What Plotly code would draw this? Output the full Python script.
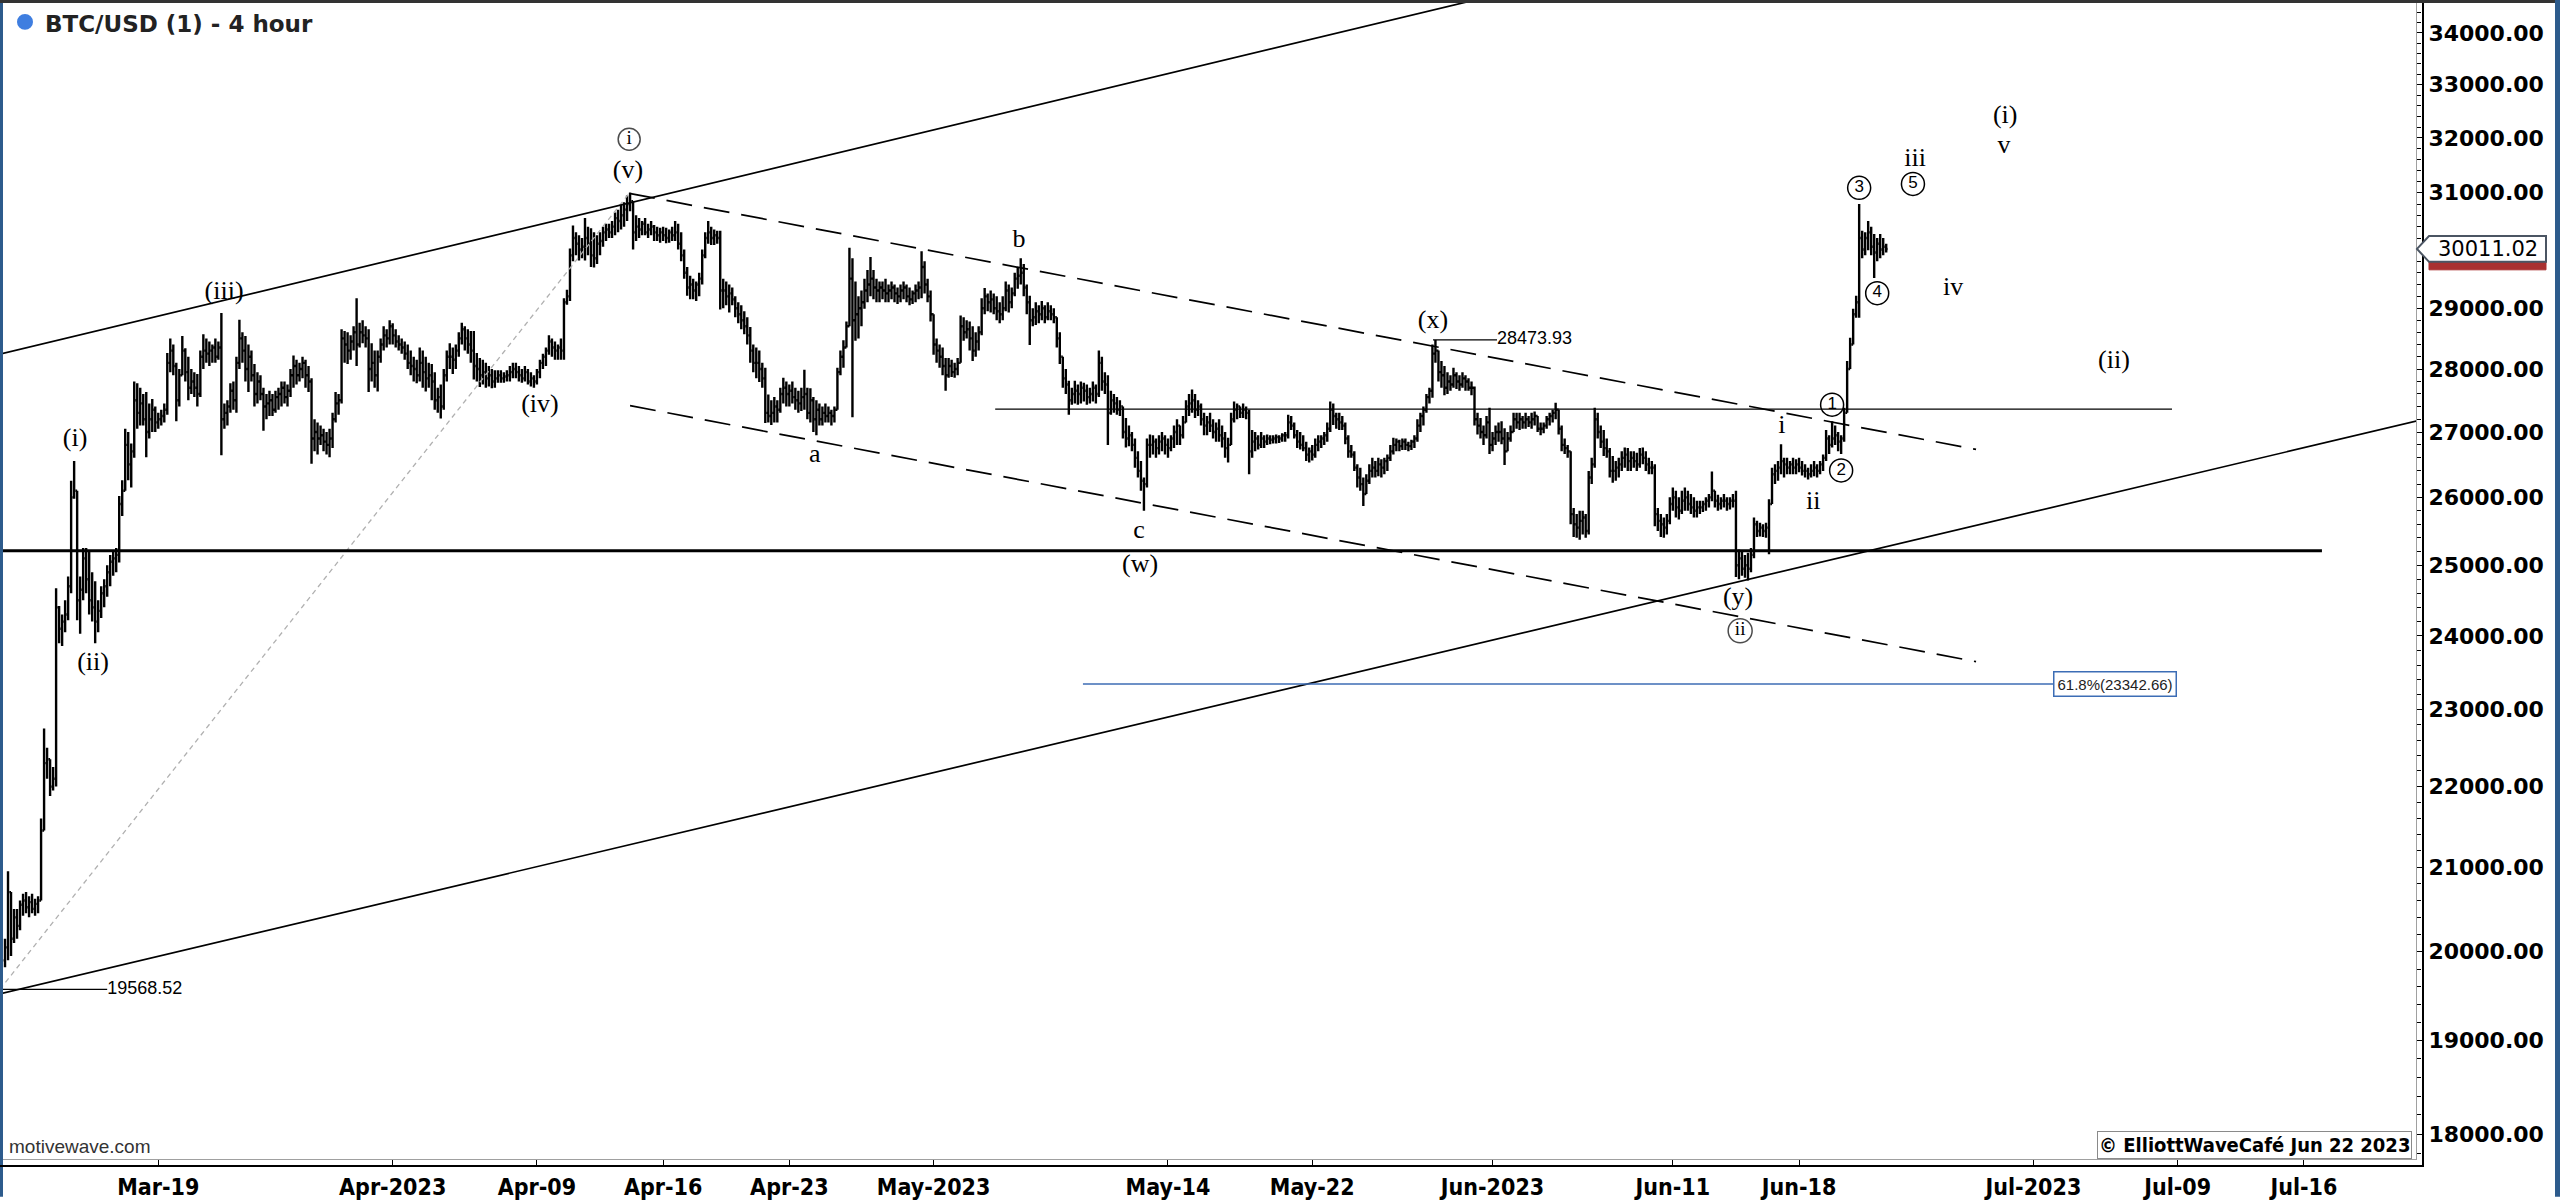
import math
from datetime import datetime, timedelta
import plotly.graph_objects as go

# ----------------------------------------------------------------- data
T0 = datetime(2023, 3, 10, 12, 0)      # time of first 4-hour bar
BAR_HOURS = 4
FIRST_OPEN = 19900
LAST_PRICE = 30011.02

HIGHS = [
    20150, 20950, 20700, 20500, 20500, 20600, 20680, 20700, 20650, 20680,
    20620, 20650, 21600, 22750, 22500, 22300, 22250, 24670, 24420, 24300,
    24500, 24840, 26250, 26550, 26020, 24840, 25250, 25250, 25200, 24900,
    24770, 24500, 24700, 24800, 25000, 25150, 25200, 25250, 26020, 26260,
    27050, 27000, 26820, 27800, 27770, 27700, 27600, 27630, 27450, 27520,
    27400, 27300, 27350, 27450, 28260, 28500, 28400, 28100, 28000, 28540,
    28340, 28200, 28000, 27950, 27920, 28300, 28570, 28500, 28450, 28400,
    28500, 28450, 28920, 27450, 27500, 27770, 27800, 28200, 28810, 28600,
    28540, 28400, 28300, 28080, 27950, 27900, 27700, 27600, 27650, 27600,
    27650, 27700, 27800, 27800, 27750, 28000, 28220, 28150, 28100, 28200,
    28150, 28050, 27850, 27200, 27150, 27100, 27050, 27000, 27050, 27300,
    27630, 27600, 28650, 28620, 28600, 28550, 28700, 29170, 28760, 28800,
    28700, 28650, 28420, 28300, 28300, 28500, 28700, 28650, 28800, 28750,
    28650, 28550, 28500, 28450, 28400, 28300, 28200, 28150, 28350, 28300,
    28200, 28100, 28080, 27950, 27700, 27750, 28000, 28300, 28420, 28350,
    28400, 28600, 28760, 28700, 28650, 28620, 28620, 28260, 28180, 28150,
    28100, 28050, 28000, 27980, 27980, 27980, 27950, 27980, 28050, 28100,
    28100, 28050, 28000, 28050, 28000, 27950, 27900, 28000, 28150, 28250,
    28350, 28550, 28500, 28450, 28400, 28500, 29170, 29310, 30020, 30420,
    30300, 30250, 30200, 30550, 30400, 30370, 30300, 30250, 30300, 30400,
    30450, 30450, 30500, 30650, 30700, 30800, 30830, 30950, 31000, 30800,
    30600, 30550, 30500, 30550, 30450, 30500, 30430, 30400, 30380, 30400,
    30380, 30350, 30400, 30500, 30450, 30300, 30000, 29700, 29550, 29500,
    29450, 29600, 30000, 30300, 30500, 30400, 30350, 30330, 30330, 29500,
    29450, 29400, 29350, 29200, 29100, 29050, 28950, 28850, 28690, 28400,
    28350, 28300, 28100, 28020, 27590, 27500, 27550, 27500, 27700, 27860,
    27800, 27750, 27800, 27700, 27650, 27700, 27990, 27700, 27690, 27550,
    27500, 27450, 27400, 27450, 27400, 27350, 27400, 28020, 28300, 28470,
    28780, 30030, 29850, 29450, 29200, 29300, 29500, 29650, 29870, 29650,
    29500, 29450, 29450, 29500, 29400, 29450, 29400, 29350, 29400, 29450,
    29400, 29350, 29300, 29400, 29450, 29970, 29800, 29500, 29300, 28780,
    28500, 28400, 28350, 28180, 28180, 28150, 28100, 28180, 28880, 28850,
    28800, 28780, 28700, 28600, 28700, 29170, 29340, 29250, 29300, 29250,
    29200, 29100, 29200, 29450, 29400, 29350, 29600, 29700, 29850, 29750,
    29400, 29210, 29000, 29100, 29050, 29120, 29050, 29100, 29050, 29000,
    28840, 28600, 28130, 28000, 27810, 27700, 27810, 27750, 27800, 27780,
    27750, 27700, 27800, 27750, 28300, 28200, 27950, 27900, 27650, 27600,
    27550, 27500, 27400, 27220, 27100, 27000, 26900, 26700, 26550, 26300,
    26900, 26960, 26950, 26900, 26950, 27000, 26950, 26900, 26950, 27100,
    27200, 27100, 27250, 27500, 27600, 27670, 27600, 27500, 27450, 27300,
    27250, 27300, 27200, 27150, 27200, 27100, 27000, 26910, 27300, 27480,
    27450, 27400, 27450, 27400, 27350, 27030, 27000, 26950, 27000, 26950,
    26960, 26950, 26950, 26960, 26950, 26980, 27000, 27270, 27250, 27150,
    27030, 27000, 26950, 26850, 26760, 26800, 26900, 26950, 26950, 27000,
    27150, 27480, 27450, 27300, 27300, 27250, 27150, 26950, 26800, 26700,
    26500, 26450, 26300, 26350, 26500, 26600, 26550, 26600, 26580, 26600,
    26650, 26800, 26910, 26900, 26880, 26900, 26900, 26850, 26880, 26950,
    27200, 27300, 27400, 27600, 27700, 28400, 28474, 28300, 28130, 28050,
    27950, 27900, 28020, 27950, 27900, 27950, 27900, 27850, 27800, 27720,
    27300, 27220, 27100, 27250, 27380, 27000, 27100, 27150, 27170, 27060,
    27000, 27100, 27300, 27300, 27300, 27250, 27300, 27250, 27300, 27320,
    27250, 27150, 27150, 27250, 27300, 27350, 27460, 27350, 27100, 26900,
    26800, 26700, 25840, 25750, 25800, 25800, 25750, 26400, 26600, 27380,
    27300, 27100, 27030, 26900, 26750, 26630, 26550, 26600, 26700, 26760,
    26750, 26700, 26700, 26680, 26750, 26760, 26700, 26600, 26550, 26500,
    25840, 25750, 25700, 25750, 26000, 26150, 26100, 26000, 26100, 26150,
    26100, 26050, 26000, 25950, 25950, 25950, 26000, 26050, 26390, 26100,
    26040, 26000, 26050, 26000, 26000, 26050, 26100, 25230, 25200, 25150,
    25180, 25250, 25700, 25650, 25620, 25600, 25620, 25970, 26450, 26500,
    26550, 26810, 26600, 26600, 26550, 26600, 26580, 26600, 26550, 26500,
    26450, 26500, 26550, 26500, 26550, 26650, 27030, 26950, 27170, 27100,
    27000, 26950, 27380, 28130, 28510, 28990, 29210, 30800, 30330, 30300,
    30500, 30400, 30270, 30200, 30270, 30200, 30100,
]

LOWS = [
    19820, 19900, 19950, 20100, 20150, 20250, 20420, 20450, 20400, 20450,
    20420, 20450, 20600, 21450, 22100, 21880, 21950, 22000, 23900, 23860,
    24050, 24220, 24600, 25980, 24220, 24030, 24500, 24600, 24300, 24200,
    23900, 24050, 24250, 24400, 24550, 24700, 24850, 24900, 25040, 25720,
    26100, 26260, 26150, 26600, 27050, 27100, 27100, 26610, 26900, 27000,
    27000, 27050, 27100, 27150, 27270, 27950, 27900, 27170, 27400, 27920,
    27800, 27500, 27600, 27550, 27400, 27550, 28000, 28100, 28050, 28100,
    28100, 28150, 26640, 27050, 27100, 27300, 27350, 27300, 28000, 28100,
    27800, 27630, 27800, 27400, 27450, 27500, 27020, 27200, 27250, 27250,
    27300, 27350, 27400, 27450, 27400, 27550, 27700, 27750, 27800, 27850,
    27700, 27630, 26510, 26700, 26650, 26800, 26700, 26650, 26610, 26750,
    27150, 27270, 27450, 28100, 28080, 28150, 28300, 28050, 28350, 28420,
    28350, 27630, 27800, 27700, 27640, 28100, 28300, 28350, 28400, 28400,
    28350, 28300, 28250, 28150, 28000, 27900, 27800, 27770, 27800, 27700,
    27640, 27700, 27500, 27350, 27300, 27210, 27350, 27800, 28000, 27920,
    28000, 28200, 28400, 28300, 28250, 28100, 27830, 27800, 27710, 27750,
    27700, 27720, 27690, 27700, 27780, 27780, 27780, 27800, 27800, 27850,
    27850, 27800, 27780, 27800, 27750, 27720, 27700, 27750, 27850, 28000,
    28050, 28230, 28200, 28150, 28150, 28150, 28150, 29060, 29120, 29800,
    29900, 29810, 29850, 29810, 29900, 29700, 29690, 29750, 29900, 30050,
    30150, 30200, 30200, 30250, 30300, 30350, 30400, 30500, 30670, 30000,
    30150, 30200, 30250, 30250, 30200, 30250, 30150, 30150, 30120, 30150,
    30110, 30120, 30150, 30150, 30000, 29800, 29500, 29210, 29150, 29150,
    29120, 29200, 29400, 29850, 30100, 30080, 30080, 30100, 28980, 29000,
    29050, 28930, 29050, 28850, 28750, 28650, 28570, 28400, 28100, 27950,
    27850, 27790, 27700, 27140, 27150, 27110, 27150, 27150, 27300, 27450,
    27400, 27400, 27450, 27350, 27300, 27330, 27350, 27200, 27150, 27000,
    26950, 27100, 27100, 27150, 27150, 27100, 27150, 27350, 27900, 28020,
    28350, 28700, 27230, 28460, 28500, 28700, 28990, 29100, 29200, 29150,
    29100, 29100, 29150, 29100, 29100, 29150, 29100, 29070, 29100, 29150,
    29100, 29050, 29070, 29100, 29150, 29170, 29250, 29100, 28780, 28230,
    28100, 28020, 27900, 27650, 27860, 27870, 27860, 27900, 28100, 28460,
    28500, 28300, 28130, 28200, 28300, 28550, 28900, 28950, 28930, 28900,
    28800, 28750, 28800, 28950, 28930, 29000, 29200, 29330, 29400, 29200,
    28900, 28390, 28700, 28720, 28750, 28800, 28750, 28800, 28800, 28750,
    28350, 28080, 27700, 27600, 27270, 27430, 27450, 27430, 27450, 27480,
    27430, 27450, 27480, 27450, 27550, 27650, 27600, 26800, 27270, 27300,
    27270, 27250, 26900, 26760, 26780, 26700, 26450, 26300, 26100, 25800,
    26150, 26600, 26650, 26600, 26650, 26700, 26650, 26600, 26700, 26750,
    26800, 26800, 26900, 27150, 27250, 27300, 27220, 27250, 27100, 26950,
    26950, 27000, 26900, 26850, 26850, 26760, 26600, 26530, 26800, 27150,
    27200, 27220, 27220, 27200, 26350, 26600, 26700, 26730, 26750, 26750,
    26800, 26810, 26820, 26820, 26830, 26850, 26850, 26900, 27030, 26900,
    26750, 26730, 26700, 26550, 26530, 26560, 26600, 26700, 26750, 26800,
    26850, 27000, 27110, 27050, 27030, 27030, 26810, 26600, 26600, 26400,
    26150, 26100, 25870, 26050, 26200, 26300, 26300, 26320, 26300, 26350,
    26400, 26550, 26650, 26700, 26700, 26720, 26720, 26700, 26720, 26750,
    26850, 27000, 27100, 27300, 27450, 27540, 28100, 27800, 27700, 27580,
    27600, 27650, 27700, 27680, 27650, 27700, 27650, 27650, 27580, 27100,
    26960, 26900, 26800, 26900, 26660, 26700, 26800, 26850, 26810, 26490,
    26700, 26850, 27030, 27050, 27030, 27050, 27050, 27080, 27050, 27100,
    27000, 26950, 26980, 27050, 27100, 27150, 27200, 26960, 26700, 26660,
    26600, 25600, 25410, 25400, 25370, 25450, 25400, 25450, 26200, 26450,
    26900, 26750, 26630, 26600, 26300, 26220, 26250, 26300, 26400, 26450,
    26400, 26400, 26450, 26400, 26450, 26500, 26400, 26350, 26350, 25570,
    25500, 25410, 25400, 25450, 25600, 25800, 25700, 25670, 25750, 25800,
    25800, 25750, 25700, 25700, 25750, 25780, 25800, 25850, 25940, 25850,
    25800, 25820, 25850, 25800, 25820, 25850, 24830, 24800, 24850, 24820,
    24780, 24900, 25100, 25410, 25420, 25410, 25400, 25160, 25910, 26200,
    26250, 26350, 26300, 26350, 26350, 26350, 26350, 26380, 26330, 26300,
    26270, 26300, 26320, 26300, 26350, 26400, 26550, 26660, 26760, 26800,
    26700, 26660, 26850, 27300, 28000, 28400, 28840, 28840, 29850, 29900,
    29990, 29900, 29510, 29800, 29850, 29900, 29950,
]

CLOSES = [
    20050, 20700, 20150, 20400, 20300, 20550, 20600, 20520, 20580, 20500,
    20560, 20600, 21450, 22300, 22350, 22000, 22100, 24400, 24100, 24200,
    24300, 24700, 26000, 26100, 24500, 24650, 25100, 24800, 24500, 24400,
    24200, 24350, 24600, 24700, 24900, 25050, 25100, 25150, 25900, 26100,
    26800, 26500, 26700, 27500, 27300, 27450, 27200, 27000, 27200, 27350,
    27150, 27200, 27250, 27350, 28100, 28300, 28050, 27500, 27900, 28300,
    27950, 27700, 27800, 27700, 27600, 28200, 28300, 28250, 28300, 28350,
    28200, 28350, 27200, 27300, 27400, 27650, 27500, 28100, 28500, 28300,
    28000, 28200, 27900, 27600, 27800, 27600, 27400, 27450, 27500, 27350,
    27550, 27600, 27700, 27550, 27650, 27900, 28050, 27900, 28000, 28100,
    27900, 27800, 26900, 27000, 26900, 26950, 26850, 26800, 26900, 27200,
    27450, 27500, 28500, 28400, 28300, 28450, 28600, 28400, 28600, 28550,
    28500, 28000, 28100, 27900, 28200, 28400, 28550, 28500, 28700, 28550,
    28450, 28400, 28350, 28250, 28100, 28050, 28000, 27900, 28100, 27950,
    27850, 27900, 27800, 27500, 27550, 27400, 27900, 28200, 28200, 28150,
    28300, 28500, 28650, 28500, 28400, 28300, 28050, 28000, 27900, 27950,
    27850, 27900, 27800, 27850, 27900, 27850, 27880, 27900, 27950, 28000,
    27950, 27900, 27850, 27950, 27800, 27850, 27800, 27950, 28100, 28200,
    28300, 28450, 28350, 28300, 28350, 28300, 29100, 29200, 29900, 30200,
    30100, 30000, 30050, 30200, 30100, 29900, 29850, 30100, 30150, 30300,
    30350, 30300, 30400, 30550, 30500, 30600, 30700, 30800, 30850, 30300,
    30400, 30350, 30450, 30300, 30350, 30400, 30300, 30250, 30300, 30250,
    30200, 30300, 30250, 30300, 30100, 29900, 29600, 29350, 29400, 29300,
    29400, 29500, 29900, 30200, 30300, 30200, 30250, 30200, 29300, 29300,
    29200, 29250, 29150, 29000, 28900, 28800, 28700, 28550, 28300, 28100,
    28100, 28000, 27850, 27300, 27250, 27300, 27400, 27350, 27600, 27700,
    27600, 27650, 27550, 27500, 27450, 27550, 27600, 27300, 27500, 27200,
    27350, 27200, 27300, 27250, 27300, 27250, 27350, 27950, 28200, 28350,
    28700, 29500, 28800, 28900, 29000, 29100, 29300, 29400, 29500, 29350,
    29300, 29350, 29300, 29250, 29300, 29350, 29250, 29200, 29300, 29350,
    29200, 29150, 29250, 29300, 29350, 29700, 29400, 29200, 28900, 28400,
    28300, 28200, 28050, 27900, 28050, 27950, 28000, 28100, 28700, 28600,
    28650, 28500, 28300, 28450, 28600, 29000, 29200, 29100, 29150, 29000,
    28950, 28900, 29000, 29300, 29100, 29250, 29500, 29550, 29600, 29350,
    29100, 28800, 28850, 28950, 28900, 29000, 28850, 28950, 28900, 28850,
    28500, 28200, 27850, 27750, 27500, 27600, 27650, 27600, 27700, 27650,
    27550, 27600, 27700, 27600, 28100, 27800, 27750, 27300, 27500, 27450,
    27350, 27400, 27000, 26900, 26950, 26800, 26600, 26400, 26250, 26200,
    26800, 26800, 26850, 26750, 26850, 26900, 26800, 26750, 26900, 27000,
    27100, 26950, 27150, 27400, 27450, 27500, 27350, 27400, 27200, 27100,
    27150, 27100, 27000, 27050, 26950, 26900, 26750, 26800, 27200, 27350,
    27400, 27300, 27350, 27300, 26700, 26850, 26900, 26800, 26900, 26850,
    26900, 26880, 26900, 26920, 26900, 26950, 26950, 27150, 27100, 26950,
    26850, 26800, 26750, 26650, 26700, 26650, 26800, 26850, 26900, 26950,
    27050, 27350, 27250, 27200, 27150, 27100, 26900, 26700, 26650, 26450,
    26300, 26200, 26050, 26250, 26400, 26450, 26400, 26500, 26450, 26550,
    26600, 26700, 26800, 26850, 26780, 26850, 26800, 26780, 26850, 26900,
    27100, 27250, 27350, 27550, 27650, 28250, 28300, 27950, 27900, 27700,
    27800, 27750, 27900, 27800, 27750, 27850, 27800, 27700, 27700, 27200,
    27100, 27000, 26950, 27150, 26800, 26900, 27000, 27000, 26900, 26700,
    26900, 27000, 27200, 27150, 27200, 27150, 27200, 27150, 27200, 27250,
    27050, 27050, 27100, 27200, 27250, 27300, 27350, 27050, 26800, 26750,
    26700, 25750, 25600, 25550, 25650, 25700, 25500, 26300, 26500, 27200,
    27000, 26850, 26750, 26700, 26400, 26400, 26450, 26500, 26600, 26650,
    26550, 26600, 26550, 26500, 26650, 26600, 26500, 26450, 26450, 25750,
    25650, 25600, 25550, 25650, 25900, 26000, 25850, 25800, 25950, 26000,
    25900, 25850, 25800, 25850, 25850, 25900, 25950, 26000, 26100, 25950,
    25900, 25950, 25950, 25900, 25950, 25950, 25000, 25100, 24950, 25000,
    24950, 25150, 25600, 25500, 25550, 25500, 25550, 25900, 26350, 26400,
    26450, 26550, 26500, 26450, 26500, 26450, 26500, 26450, 26400, 26400,
    26350, 26400, 26450, 26400, 26500, 26600, 26900, 26800, 26900, 26950,
    26850, 26900, 27300, 28000, 28400, 28900, 29100, 30200, 30000, 30200,
    30300, 30050, 29950, 30100, 30000, 30050, LAST_PRICE,
]

# x-axis ticks (dates) and their labels
X_TICK_DATES = ["2023-03-19", "2023-04-01", "2023-04-09", "2023-04-16", "2023-04-23",
                "2023-05-01", "2023-05-14", "2023-05-22", "2023-06-01", "2023-06-11",
                "2023-06-18", "2023-07-01", "2023-07-09", "2023-07-16"]
X_TICK_TEXT = ["Mar-19", "Apr-2023", "Apr-09", "Apr-16", "Apr-23", "May-2023", "May-14",
               "May-22", "Jun-2023", "Jun-11", "Jun-18", "Jul-2023", "Jul-09", "Jul-16"]

# y-axis (log) ticks
Y_TICKS = [18000, 19000, 20000, 21000, 22000, 23000, 24000, 25000, 26000,
           27000, 28000, 29000, 30000, 31000, 32000, 33000, 34000]
Y_TICK_TEXT = ["18000.00", "19000.00", "20000.00", "21000.00", "22000.00", "23000.00",
               "24000.00", "25000.00", "26000.00", "27000.00", "28000.00", "29000.00",
               "30000.00", "31000.00", "32000.00", "33000.00", "34000.00"]
Y_RANGE = (17743, 34591)
X_RANGE_BARS = (-0.67, 802.3)          # visible span in bar units

# Elliott wave labels: (text, bar position, price)
WAVE_TEXT = [
    ("(v)", 207.3, 31390), ("(iii)", 72.9, 29270), ("(i)", 23.3, 26880),
    ("(ii)", 29.3, 23620), ("(iv)", 178.0, 27410), ("a", 269.5, 26636),
    ("b", 337.4, 30160), ("c", 377.4, 25497), ("(w)", 377.7, 25000),
    ("(x)", 475.2, 28786), ("(y)", 576.7, 24520), ("i", 591.3, 27080),
    ("ii", 601.7, 25925), ("iii", 635.6, 31610), ("iv", 648.3, 29340),
    ("(i)", 665.6, 32400), ("v", 665.2, 31846), ("(ii)", 701.8, 28115),
]
CIRCLED_ROMAN = [("i", 207.7, 31974), ("ii", 577.4, 24073)]
CIRCLED_DIGITS = [("1", 608.0, 27430), ("2", 611.0, 26408), ("3", 617.0, 31089),
                  ("4", 623.0, 29254), ("5", 634.9, 31160)]

# drawn lines: (bar0, price0, bar1, price1)
CHANNEL_SOLID = [(-1.0, 28252, 500.0, 34808), (-1.0, 19523, 805.0, 27200)]
CHANNEL_DASHED = [(207.7, 30990, 655.9, 26730), (208.0, 27414, 655.9, 23647)]
GRAY_DOTTED = (-1.7, 19568.52, 207.7, 30990)
LEVEL_THIN = [(-1.7, 34.0, 19568.52), (475.2, 496.5, 28473.93), (329.5, 721.1, 27360)]
LEVEL_THICK = (-1.7, 771.0, 25210)
FIB_LEVEL = (358.7, 681.5, 23342.66)
VALUE_TAGS = [("19568.52", 34.0, 19568.52), ("28473.93", 496.5, 28473.93)]

# ----------------------------------------------------------------- helpers
FIG_W, FIG_H = 2560, 1203
PX_L, PX_R, PX_T, PX_B = 3, 2416, 3, 1165
LY0, LY1 = math.log10(Y_RANGE[0]), math.log10(Y_RANGE[1])


def bar_time(i):
    return T0 + timedelta(hours=BAR_HOURS * i)


def px_x(X):
    return (X - PX_L) / (PX_R - PX_L)


def px_y(Y):
    return (PX_B - Y) / (PX_B - PX_T)


def price_paper(p):
    return (math.log10(p) - LY0) / (LY1 - LY0)


def price_px(p):
    return PX_B - price_paper(p) * (PX_B - PX_T)


n = len(CLOSES)
times = [bar_time(i) for i in range(n)]
opens = [FIRST_OPEN] + CLOSES[:-1]
highs = [max(h, o, c) for h, o, c in zip(HIGHS, opens, CLOSES)]
lows = [min(l, o, c) for l, o, c in zip(LOWS, opens, CLOSES)]

SERIF = "Liberation Serif, Times New Roman, serif"
SANS = "Liberation Sans, Arial, sans-serif"
VERD = "DejaVu Sans, Verdana, sans-serif"
COND = "DejaVu Sans Condensed, DejaVu Sans, sans-serif"

fig = go.Figure()


def seg(b0, p0, b1, p1, color="black", width=1.6, dash="solid"):
    fig.add_trace(go.Scatter(x=[bar_time(b0), bar_time(b1)], y=[p0, p1], mode="lines",
                             line=dict(color=color, width=width, dash=dash),
                             hoverinfo="skip", showlegend=False))


seg(*GRAY_DOTTED, color="#b0b0b0", width=1.3, dash="5px,4px")
for s in CHANNEL_SOLID:
    seg(*s, width=1.7)
for s in CHANNEL_DASHED:
    seg(*s, width=1.7, dash="26px,12px")
for b0, b1, p in LEVEL_THIN:
    seg(b0, p, b1, p, width=1.3)
seg(LEVEL_THICK[0], LEVEL_THICK[2], LEVEL_THICK[1], LEVEL_THICK[2], width=3)
seg(FIB_LEVEL[0], FIB_LEVEL[2], FIB_LEVEL[1], FIB_LEVEL[2], color="#3c6db5", width=1.4)

fig.add_trace(go.Ohlc(
    x=times, open=opens, high=highs, low=lows, close=CLOSES,
    increasing=dict(line=dict(color="black", width=2.4)),
    decreasing=dict(line=dict(color="black", width=2.4)),
    tickwidth=0.5, hoverinfo="skip", showlegend=False))

fig.add_trace(go.Scatter(
    x=[bar_time(b) for _, b, _ in WAVE_TEXT], y=[p for _, _, p in WAVE_TEXT],
    text=[t for t, _, _ in WAVE_TEXT], mode="text", textposition="middle center",
    textfont=dict(family=SERIF, size=26, color="black"), hoverinfo="skip", showlegend=False))

fig.add_trace(go.Scatter(
    x=[bar_time(b) for _, b, _ in CIRCLED_ROMAN], y=[p for _, _, p in CIRCLED_ROMAN],
    text=[t for t, _, _ in CIRCLED_ROMAN], mode="markers+text", textposition="middle center",
    marker=dict(symbol="circle-open", size=[22, 24], color="black", line=dict(width=1.5)),
    textfont=dict(family=SERIF, size=19, color="black"), hoverinfo="skip", showlegend=False))

fig.add_trace(go.Scatter(
    x=[bar_time(b) for _, b, _ in CIRCLED_DIGITS], y=[p for _, _, p in CIRCLED_DIGITS],
    text=[t for t, _, _ in CIRCLED_DIGITS], mode="markers+text", textposition="middle center",
    marker=dict(symbol="circle-open", size=23, color="black", line=dict(width=1.5)),
    textfont=dict(family=SANS, size=17, color="black"), hoverinfo="skip", showlegend=False))

fig.add_trace(go.Scatter(
    x=[bar_time(b) for _, b, _ in VALUE_TAGS], y=[p for _, _, p in VALUE_TAGS],
    text=[t for t, _, _ in VALUE_TAGS], mode="text", textposition="middle right",
    textfont=dict(family=SANS, size=18, color="black"), hoverinfo="skip", showlegend=False))

# ----------------------------------------------------------------- layout pieces
shapes = []
annotations = []

# frame: blue left/right edges, dark top strip, black axis rails
shapes.append(dict(type="rect", xref="paper", yref="paper", x0=px_x(0), x1=px_x(3),
                   y0=px_y(FIG_H), y1=px_y(0), fillcolor="#2d5b8c", line=dict(width=0), layer="above"))
shapes.append(dict(type="rect", xref="paper", yref="paper", x0=px_x(0), x1=px_x(FIG_W),
                   y0=px_y(3), y1=px_y(0), fillcolor="#333333", line=dict(width=0), layer="above"))
shapes.append(dict(type="rect", xref="paper", yref="paper", x0=px_x(2555), x1=px_x(FIG_W),
                   y0=px_y(FIG_H), y1=px_y(0), fillcolor="#2d5b8c", line=dict(width=0), layer="above"))
shapes.append(dict(type="line", xref="paper", yref="paper", x0=px_x(0), x1=px_x(2424),
                   y0=px_y(1172), y1=px_y(1172), line=dict(color="black", width=2)))
shapes.append(dict(type="line", xref="paper", yref="paper", x0=px_x(2423), x1=px_x(2423),
                   y0=px_y(3), y1=px_y(1172), line=dict(color="black", width=2)))

# blue title dot
shapes.append(dict(type="circle", xref="paper", yref="paper", x0=px_x(17), x1=px_x(33),
                   y0=px_y(30), y1=px_y(14), fillcolor="#3f7ee0", line=dict(width=0)))

# last price tag on the right axis
yc = price_px(LAST_PRICE)
shapes.append(dict(type="rect", xref="paper", yref="paper", x0=px_x(2429), x1=px_x(2546),
                   y0=px_y(yc + 21), y1=px_y(yc - 4), fillcolor="#a93030",
                   line=dict(color="#a93030", width=1)))
tag_path = "M {},{} L {},{} L {},{} L {},{} L {},{} Z".format(
    px_x(2417), px_y(yc), px_x(2429), px_y(yc - 13), px_x(2546), px_y(yc - 13),
    px_x(2546), px_y(yc + 13), px_x(2429), px_y(yc + 13))
shapes.append(dict(type="path", xref="paper", yref="paper", path=tag_path,
                   fillcolor="white", line=dict(color="#4b5563", width=2)))
annotations.append(dict(xref="paper", yref="paper", x=px_x(2488), y=price_paper(LAST_PRICE),
                        text=f"{LAST_PRICE:.2f}", showarrow=False, xanchor="center", yanchor="middle",
                        font=dict(family=VERD, size=21, color="black")))

# title
annotations.append(dict(xref="paper", yref="paper", x=px_x(43), y=px_y(24), text="BTC/USD (1) - 4 hour",
                        showarrow=False, xanchor="left", yanchor="middle",
                        font=dict(family=VERD, size=23, color="#222222", weight="bold")))
# watermark / credits
annotations.append(dict(xref="paper", yref="paper", x=px_x(7), y=px_y(1152), text="motivewave.com",
                        showarrow=False, xanchor="left", yanchor="middle",
                        font=dict(family="Liberation Sans Narrow, Arial Narrow, sans-serif", size=19,
                                  color="#333333")))
annotations.append(dict(xref="paper", yref="paper", x=px_x(2412), y=px_y(1165),
                        text="© ElliottWaveCafé Jun 22 2023", showarrow=False,
                        xanchor="right", yanchor="bottom", bgcolor="white", bordercolor="#8a8a8a",
                        borderwidth=1, borderpad=1,
                        font=dict(family=COND, size=20, color="black", weight="bold")))
# fib label box
annotations.append(dict(xref="x", yref="paper", x=bar_time(FIB_LEVEL[1]), y=price_paper(FIB_LEVEL[2]),
                        text="61.8%(23342.66)", showarrow=False, xanchor="left", yanchor="middle",
                        bgcolor="white", bordercolor="#3c6db5", borderwidth=1.5, borderpad=3,
                        font=dict(family=SANS, size=15, color="#222222")))

minor_vals = [v for v in range(17800, 34600, 200) if v % 1000]

fig.update_layout(
    width=FIG_W, height=FIG_H,
    margin=dict(l=PX_L, r=FIG_W - PX_R, t=PX_T, b=FIG_H - PX_B, pad=0),
    paper_bgcolor="white", plot_bgcolor="white",
    showlegend=False,
    shapes=shapes, annotations=annotations,
    xaxis=dict(type="date", range=[bar_time(X_RANGE_BARS[0]), bar_time(X_RANGE_BARS[1])],
               tickmode="array", tickvals=X_TICK_DATES, ticktext=X_TICK_TEXT,
               ticks="outside", ticklen=7, tickwidth=1, tickcolor="black",
               showline=True, linecolor="#a0a0a0", linewidth=1, showgrid=False, zeroline=False,
               rangeslider=dict(visible=False), fixedrange=True,
               tickfont=dict(family=COND, size=23, color="black", weight="bold")),
    yaxis=dict(type="log", side="right", range=[LY0, LY1],
               tickmode="array", tickvals=Y_TICKS, ticktext=Y_TICK_TEXT,
               ticks="outside", ticklen=7, tickwidth=1, tickcolor="black",
               minor=dict(tickmode="array", tickvals=minor_vals, ticks="outside", ticklen=4,
                          tickcolor="black", tickwidth=1),
               showline=True, linecolor="#a0a0a0", linewidth=1, showgrid=False, zeroline=False,
               fixedrange=True,
               tickfont=dict(family=VERD, size=22, color="black", weight="bold")),
)

fig.write_html("out.html", config={"displayModeBar": False},
               post_script="document.body.style.margin='0';document.body.style.overflow='hidden';")
